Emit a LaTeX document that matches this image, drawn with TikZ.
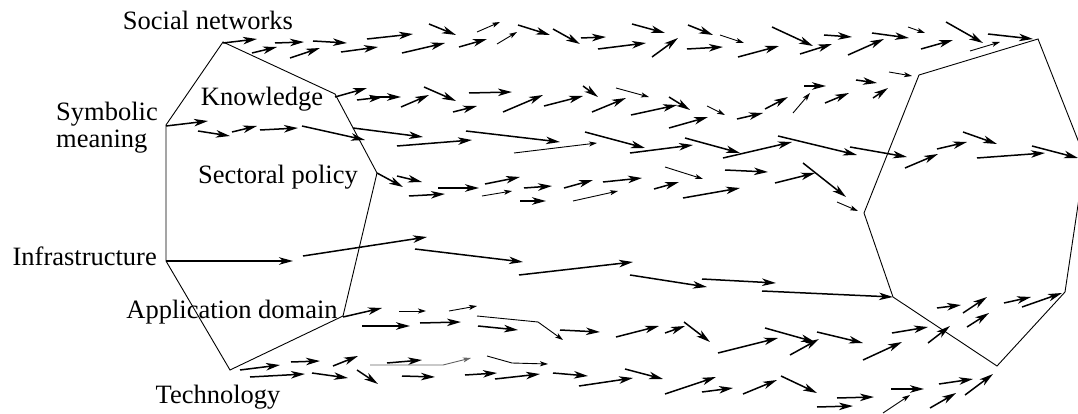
\documentclass[tikz,border=0pt]{standalone}
\usepackage{fontspec}
\setmainfont{Liberation Serif}
\usetikzlibrary{arrows.meta}

\tikzset{
  hull/.style={line width=0.9pt},
  vec/.style={-{Stealth[length=14pt,width=7.5pt,inset=4pt]}, line width=1.5pt},
  thinvec/.style={-{Stealth[length=8pt,width=5pt,inset=2pt]}, line width=0.9pt},
  lbl/.style={font=\fontsize{26.5}{27}\selectfont, inner sep=0pt},
}

\begin{document}
\begin{tikzpicture}[x=1pt, y=-1pt]
\useasboundingbox (0,0) rectangle (1078,414);

% start shape
\coordinate (sn1) at (223,42);
\coordinate (kn1) at (335,94);
\coordinate (sp1) at (377,173);
\coordinate (ad1) at (343,316);
\coordinate (te1) at (230,370);
\coordinate (in1) at (166,261);
\coordinate (sm1) at (166,125);
% end shape
\coordinate (sn2) at (1038,39);
\coordinate (kn2) at (919,75);
\coordinate (sm2) at (864,213);
\coordinate (in2) at (893,297);
\coordinate (te2) at (997,366);
\coordinate (ad2) at (1065,292);
\coordinate (sp2) at (1085,158);

\draw[hull] (sn1) -- (kn1) -- (sp1) -- (ad1) -- (te1) -- (in1) -- (sm1) -- cycle;
\draw[hull] (sn2) -- (kn2) -- (sm2) -- (in2) -- (te2) -- (ad2) -- (sp2) -- cycle;

\node[lbl, anchor=base] (snl) at (208,30) {Social networks};
\node[lbl, anchor=base] (knl) at (262,106) {Knowledge};
\node[lbl, anchor=north west, align=left] (sml) at (56,102) {Symbolic\\meaning};
\node[lbl, anchor=base] (spl) at (278,183) {Sectoral policy};
\node[lbl, anchor=base east] (inl) at (157,265) {Infrastructure};
\node[lbl, anchor=base] (adl) at (232,318) {Application domain};
\node[lbl, anchor=base] (tel) at (218,403) {Technology};

% social networks
\foreach \xa/\ya/\xb/\yb in {223/43/257/39, 275/43/304/42, 313/41/347/43, 367/39/413/34,
  252/53/277/47, 290/58/320/48, 341/52/378/47, 429/24/456/35, 402/53/445/43,
  459/47/487/39, 518/25/550/35, 553/29/580/44, 581/38/606/37, 598/49/646/43,
  632/24/665/33, 652/57/678/38, 688/25/713/35, 687/49/723/47, 738/57/779/46,
  772/27/813/46, 800/54/832/44, 824/35/852/37, 848/55/884/39, 872/33/909/38,
  921/49/953/40, 946/22/983/43, 988/34/1033/39}
  \draw[vec] (\xa,\ya) -- (\xb,\yb);
\foreach \xa/\ya/\xb/\yb in {477/32/500/22, 497/44/517/32, 720/35/744/43,
  908/27/925/33, 970/51/1000/42}
  \draw[thinvec] (\xa,\ya) -- (\xb,\yb);

% knowledge
\foreach \xa/\ya/\xb/\yb in {335/97/367/88, 357/100/383/97, 370/97/401/97,
  401/107/429/95, 424/87/456/101, 453/112/477/106, 469/93/512/92, 503/112/543/95,
  544/106/583/96, 583/86/598/97, 592/112/626/98, 631/115/677/105, 669/97/690/110,
  669/128/708/117, 737/119/763/113, 765/109/788/97, 804/86/826/86, 825/103/849/93,
  856/80/877/83, 873/98/888/88}
  \draw[vec] (\xa,\ya) -- (\xb,\yb);
\foreach \xa/\ya/\xb/\yb in {616/88/649/97, 707/106/725/115, 793/113/810/93,
  889/72/912/76}
  \draw[thinvec] (\xa,\ya) -- (\xb,\yb);

% symbolic meaning
\foreach \xa/\ya/\xb/\yb in {166/126/208/121, 198/131/230/136, 232/132/257/126,
  260/130/298/128, 302/126/365/140, 353/128/423/137, 397/146/472/140,
  466/131/560/142, 585/132/645/148, 630/153/693/145, 685/138/740/153,
  723/158/792/142, 778/136/857/155, 850/147/907/157, 905/168/938/154,
  937/149/967/142, 963/132/997/144, 977/158/1045/153, 1032/146/1078/158}
  \draw[vec] (\xa,\ya) -- (\xb,\yb);
\draw[thinvec] (514,153) -- (597,143);

% sectoral policy
\foreach \xa/\ya/\xb/\yb in {377/173/403/187, 397/176/422/182, 409/196/445/194,
  438/188/479/188, 485/184/520/177, 524/188/552/186, 520/201/546/201,
  564/188/593/180, 603/182/642/178, 654/189/679/182, 683/198/740/188,
  725/170/768/172, 775/183/815/173, 803/163/846/197}
  \draw[vec] (\xa,\ya) -- (\xb,\yb);
\foreach \xa/\ya/\xb/\yb in {482/196/512/191, 573/201/618/191, 665/167/703/179,
  837/202/858/211}
  \draw[thinvec] (\xa,\ya) -- (\xb,\yb);

% infrastructure
\foreach \xa/\ya/\xb/\yb in {166/261/293/261, 303/256/427/237, 415/249/523/262,
  519/275/633/262, 630/275/707/287, 702/279/776/283, 762/291/893/297}
  \draw[vec] (\xa,\ya) -- (\xb,\yb);

% application domain
\foreach \xa/\ya/\xb/\yb in {343/317/382/308, 362/326/410/326, 420/323/461/322,
  478/326/518/330, 560/330/600/332, 616/337/659/326, 665/333/685/326,
  684/322/710/342, 718/353/778/338, 765/328/815/342, 790/355/819/339,
  817/332/863/343, 863/360/902/342, 892/333/928/327, 928/343/950/326,
  937/308/961/305, 963/313/987/297, 967/327/989/313, 1004/303/1031/297,
  1022/307/1062/293}
  \draw[vec] (\xa,\ya) -- (\xb,\yb);
\foreach \xa/\ya/\xb/\yb in {399/311/426/311, 449/311/477/306}
  \draw[thinvec] (\xa,\ya) -- (\xb,\yb);
\draw[thinvec] (477,316) -- (538,322) -- (563,340);

% technology
\foreach \xa/\ya/\xb/\yb in {240/370/280/365, 250/377/305/374, 291/362/320/361,
  312/373/348/378, 333/366/358/356, 357/370/378/384, 387/363/422/360,
  402/376/435/377, 465/375/497/373, 495/379/540/374, 553/373/588/376,
  579/386/633/378, 625/369/663/379, 665/394/716/377, 702/392/733/388,
  743/394/777/380, 781/376/817/393, 817/407/853/406, 837/398/874/397,
  891/389/924/389, 930/408/956/393, 939/384/973/379, 965/395/993/374}
  \draw[vec] (\xa,\ya) -- (\xb,\yb);
\draw[thinvec] (883,413) -- (910,395);
\draw[thinvec, black!60] (370,365) -- (443,365) -- (471,358);
\draw[thinvec] (487,356) -- (512,363) -- (548,364);

\end{tikzpicture}
\end{document}
